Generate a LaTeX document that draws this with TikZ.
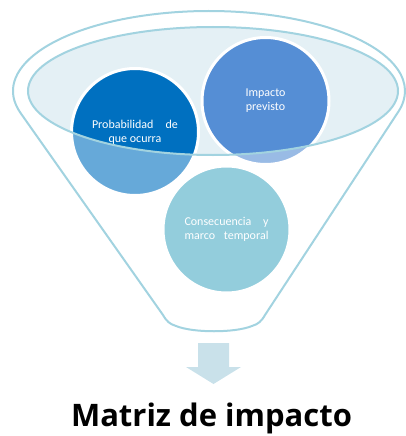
\documentclass[tikz,border=0pt]{standalone}
\usepackage{fontspec}
\setmainfont{Carlito}
\newfontfamily\titlefont{Open Sans}
\definecolor{rim}{HTML}{A2D3E0}
\definecolor{opening}{HTML}{E4F0F5}
\definecolor{probfill}{HTML}{0070C0}
\definecolor{impfill}{HTML}{558ED5}
\definecolor{consfill}{HTML}{4BACC6}
\definecolor{arrowfill}{HTML}{C9E1EA}
\tikzset{
  bubble/.style={circle, draw=white, line width=3pt, minimum size=127pt,
    inner sep=0pt, text=white, align=center,
    font=\fontsize{12}{14}\selectfont},
  rimline/.style={draw=rim, line width=2pt},
}
\begin{document}
\begin{tikzpicture}[x=1pt, y=-1pt]
\useasboundingbox (0,0) rectangle (406,436);
% funnel outline points
\coordinate (bl) at (163,315);
\coordinate (br) at (265,315);
\coordinate (tl) at (20.7,113.2);
\def\funnelpath{(bl) -- (tl) arc[start angle=163.9, end angle=374.9, x radius=196, y radius=80]
  -- (br) .. controls (261,322) and (258,324) .. (252,326)
  .. controls (235,333) and (193,333) .. (176,326)
  .. controls (170,324) and (167,322) .. (bl) -- cycle}
% opening of the funnel
\fill[opening] (213,91) ellipse[x radius=185, y radius=64];
% the three items
\node[bubble, fill=probfill] (prob) at (135,132)
  {\makebox[86pt]{Probabilidad\hfill de}\\que ocurra};
\node[bubble, fill=impfill] (imp) at (265.5,101) {Impacto\\previsto};
\node[bubble, fill=consfill] (cons) at (226.5,229.5)
  {\makebox[84pt]{Consecuencia\hfill y}\\\makebox[84pt]{marco\hfill temporal}};
% translucent funnel body
\fill[white, opacity=0.4, even odd rule] \funnelpath (213,91) ellipse[x radius=185, y radius=64];
% outlines
\draw[rimline] (213,91) ellipse[x radius=185, y radius=64];
\draw[rimline, line join=round] \funnelpath;
% arrow down to the result
\fill[arrowfill] (198,343) -- (229,343) -- (229,367) -- (241,367) -- (213.5,384)
  -- (186,367) -- (198,367) -- cycle;
\node[anchor=base, inner sep=0pt, font=\titlefont\bfseries\fontsize{31}{34}\selectfont] (title) at (211.5,426.5) {Matriz de impacto};
\end{tikzpicture}
\end{document}
